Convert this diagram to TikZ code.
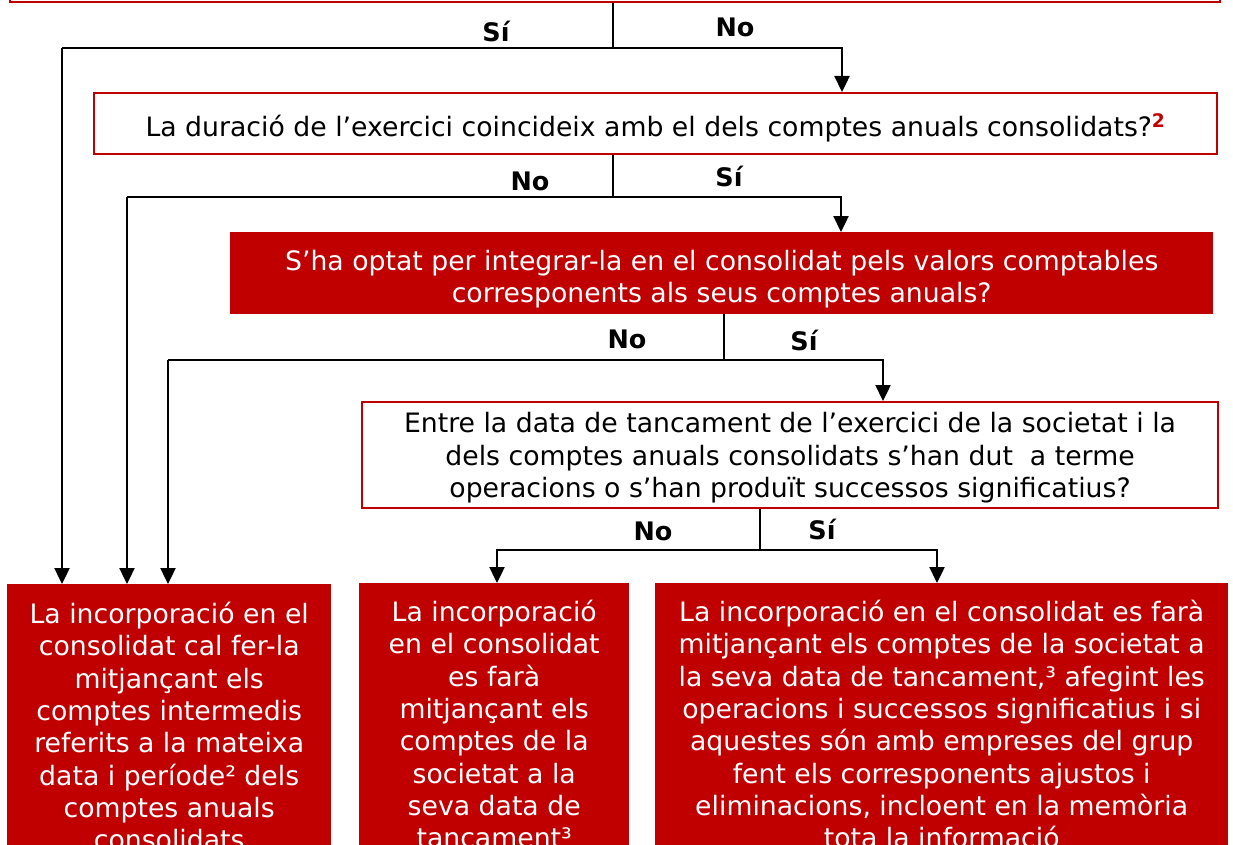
\documentclass[tikz,border=0pt]{standalone}
\usepackage{fontspec}
\setmainfont{DejaVu Sans}
\usetikzlibrary{arrows.meta}
\definecolor{dred}{RGB}{192,0,0}
\newcommand{\tstrut}[1]{\rule{0pt}{#1}}
\begin{document}
\begin{tikzpicture}[x=1pt,y=-1pt,
  txt/.style={font=\fontsize{26.7}{32.3}\selectfont, align=center},
  wbox/.style={txt, draw=dred, line width=2pt, fill=white, inner sep=0pt, anchor=north west},
  rbox/.style={txt, fill=dred, text=white, inner xsep=0pt, inner ysep=17pt, anchor=north west},
  lab/.style={font=\bfseries\fontsize{25.5}{28}\selectfont, inner sep=0pt},
  stem/.style={line width=1.4pt},
  arr/.style={line width=2.4pt, -{Triangle[length=16pt,width=15pt]}},
  branch/.style={line width=2.4pt}]
\useasboundingbox (0,0) rectangle (1233,845);
\clip (0,0) rectangle (1233,845);

% boxes
\node[wbox, minimum width=1210, minimum height=60, anchor=south west] (b1) at (9,3) {};
\node[wbox, minimum width=1123, minimum height=61] (b2) at (93,92)
  {\tstrut{31pt}La duració de l’exercici coincideix amb el dels comptes anuals consolidats?\textcolor{dred}{\textsuperscript{\bfseries 2}}};
\node[rbox, inner ysep=0pt, minimum width=983, minimum height=82] (b3) at (230,232)
  {\tstrut{32pt}S’ha optat per integrar-la en el consolidat pels valors comptables\\corresponents als seus comptes anuals?};
\node[wbox, minimum width=856, minimum height=106] (b4) at (361,401)
  {\tstrut{26pt}Entre la data de tancament de l’exercici de la societat i la\\dels comptes anuals consolidats s’han dut\ \ a terme\\operacions o s’han produït successos significatius?};
\node[rbox, inner ysep=18pt, minimum width=324] (r1) at (7,584)
  {La incorporació en el\\consolidat cal fer-la\\mitjançant els\\comptes intermedis\\referits a la mateixa\\data i període² dels\\comptes anuals\\consolidats};
\node[rbox, minimum width=270] (r2) at (359,583)
  {La incorporació\\en el consolidat\\es farà\\mitjançant els\\comptes de la\\societat a la\\seva data de\\tancament³};
\node[rbox, minimum width=573] (r3) at (655,583)
  {La incorporació en el consolidat es farà\\mitjançant els comptes de la societat a\\la seva data de tancament,³ afegint les\\operacions i successos significatius i si\\aquestes són amb empreses del grup\\fent els corresponents ajustos i\\eliminacions, incloent en la memòria\\tota la informació};

% junctions and branch columns
\coordinate (j1) at (613,48);
\coordinate (j2) at (613,197);
\coordinate (j3) at (724,360);
\coordinate (j4) at (760,550);
\coordinate (c1) at (62,48);
\coordinate (c2) at (127,197);
\coordinate (c3) at (168,360);
\coordinate (c4) at (497,550);
\coordinate (d1) at (842,48);
\coordinate (d2) at (841,197);
\coordinate (d3) at (883,360);
\coordinate (d4) at (937,550);

% level 1
\draw[stem] (b1.south -| j1) -- (j1);
\draw[branch] (j1) -- (c1);
\draw[arr] (c1) -- (r1.north -| c1);
\draw[arr] (j1) -| (b2.north -| d1);
% level 2
\draw[stem] (b2.south -| j2) -- (j2);
\draw[branch] (j2) -- (c2);
\draw[arr] (c2) -- (r1.north -| c2);
\draw[arr] (j2) -| (b3.north -| d2);
% level 3
\draw[stem] (b3.south -| j3) -- (j3);
\draw[branch] (j3) -- (c3);
\draw[arr] (c3) -- (r1.north -| c3);
\draw[arr] (j3) -| (b4.north -| d3);
% level 4
\draw[stem] (b4.south -| j4) -- (j4);
\draw[arr] (j4) -| (r2.north -| c4);
\draw[arr] (j4) -| (r3.north -| d4);

% labels
\node[lab] (l1a) at (496,31) {Sí};
\node[lab] (l1b) at (735,27) {No};
\node[lab] (l2a) at (530,181) {No};
\node[lab] (l2b) at (729,176) {Sí};
\node[lab] (l3a) at (627,339) {No};
\node[lab] (l3b) at (804,340) {Sí};
\node[lab] (l4a) at (653,531) {No};
\node[lab] (l4b) at (822,529) {Sí};
\end{tikzpicture}
\end{document}
